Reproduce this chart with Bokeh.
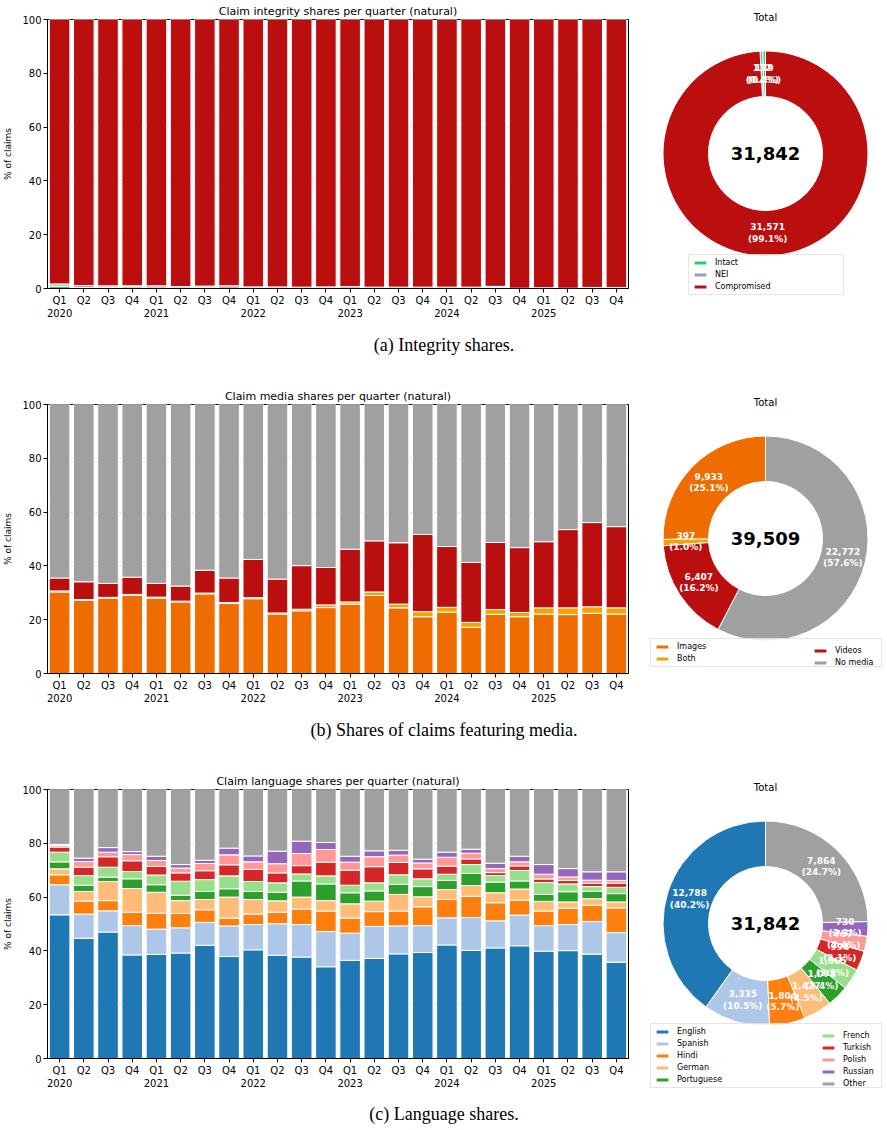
import math

from bokeh.core.properties import value
from bokeh.embed import file_html
from bokeh.layouts import column, row
from bokeh.models import ColumnDataSource, Label, Legend, LegendItem, Range1d
from bokeh.plotting import figure
from bokeh.resources import INLINE

FONT = "DejaVu Sans"
SERIF = "Liberation Serif"

# ---------------------------------------------------------------- data
quarters = ["Q1", "Q2", "Q3", "Q4"] * 6
years = ["2020", "2021", "2022", "2023", "2024", "2025"]

# integrity shares per quarter (% of claims)
integrity_names = ["Intact", "NEI", "Compromised"]
integrity_colors = ["#2ecc71", "#a0a0a0", "#bb0e0e"]
intact = [0.9, 0.3, 0.4, 0.6, 0.2, 0.2, 0.3, 0.1, 0.2, 0.1, 0.1, 0.3,
          0.1, 0.1, 0.2, 0.1, 0.1, 0.1, 0.4, 0.0, 0.1, 0.0, 0.1, 0.1]
nei = [0.8, 0.8, 0.6, 0.4, 0.8, 0.5, 0.6, 0.9, 0.4, 0.5, 0.4, 0.3,
       0.6, 0.4, 0.3, 0.4, 0.4, 0.4, 0.4, 0.1, 0.2, 0.1, 0.3, 0.3]
compromised = [98.3, 98.9, 99.0, 99.0, 99.6, 99.3, 99.1, 99.0, 99.4, 99.4, 99.5, 99.4,
               99.3, 99.5, 99.5, 99.5, 99.5, 99.5, 99.2, 99.9, 99.7, 99.9, 99.6, 99.6]
integrity_totals = [139, 132, 31571]

# media shares per quarter (% of claims)
media_names = ["Images", "Both", "Videos", "No media"]
media_colors = ["#ef6c00", "#f5a300", "#bb0e0e", "#a0a0a0"]
images = [30.3, 27.2, 28.0, 29.1, 28.0, 26.6, 29.6, 26.0, 27.8, 22.1, 23.3, 24.5,
          25.8, 29.0, 24.4, 21.1, 22.8, 17.2, 22.0, 21.1, 22.1, 21.9, 22.4, 22.1]
both = [0.4, 0.3, 0.3, 0.3, 0.4, 0.3, 0.3, 0.4, 0.4, 0.4, 0.6, 1.0,
        0.8, 1.3, 1.4, 1.9, 1.8, 1.8, 1.8, 1.6, 2.3, 2.5, 2.4, 2.3]
videos = [4.8, 6.6, 5.2, 6.4, 5.1, 5.6, 8.5, 9.1, 14.2, 12.6, 16.2, 13.9,
          19.6, 19.0, 22.8, 28.7, 22.6, 22.3, 24.9, 24.1, 24.6, 29.1, 31.3, 30.2]
no_media = [64.5, 65.9, 66.5, 64.2, 66.5, 67.5, 61.6, 64.5, 57.6, 64.9, 59.9, 60.6,
            53.8, 50.7, 51.4, 48.3, 52.8, 58.7, 51.3, 53.2, 51.0, 46.5, 43.9, 45.4]
media_totals = [9933, 397, 6407, 22772]

# language shares per quarter (% of claims)
language_names = ["English", "Spanish", "Hindi", "German", "Portuguese",
                  "French", "Turkish", "Polish", "Russian", "Other"]
language_colors = ["#1f77b4", "#aec7e8", "#ff7f0e", "#ffbb78", "#2ca02c",
                   "#98df8a", "#d62728", "#ff9896", "#9467bd", "#a0a0a0"]
english = [53.4, 44.7, 47.0, 38.5, 38.7, 39.2, 42.1, 37.9, 40.4, 38.4, 37.7, 34.1,
           36.5, 37.2, 38.9, 39.4, 42.2, 40.2, 41.1, 41.9, 39.9, 40.1, 38.8, 35.8]
spanish = [11.2, 9.0, 7.9, 10.9, 9.4, 9.4, 8.5, 11.4, 9.4, 11.7, 12.1, 13.1,
           10.1, 11.9, 10.4, 10.0, 10.1, 12.2, 10.1, 11.4, 9.5, 9.7, 12.1, 11.0]
hindi = [3.7, 4.8, 3.8, 5.0, 5.9, 5.3, 4.7, 2.9, 3.9, 4.3, 5.8, 7.6,
         5.6, 5.5, 5.5, 7.0, 6.8, 7.9, 6.7, 5.6, 5.4, 6.1, 6.1, 9.2]
german = [2.2, 3.6, 7.1, 8.8, 7.8, 4.8, 3.8, 7.8, 5.4, 4.2, 4.4, 3.9,
          5.3, 3.9, 6.2, 3.7, 3.7, 4.0, 3.7, 4.1, 3.6, 2.3, 2.4, 2.2]
portuguese = [2.6, 2.3, 1.6, 3.6, 2.8, 2.0, 3.0, 3.1, 3.0, 3.2, 6.0, 6.2,
              4.1, 3.8, 3.7, 3.8, 3.4, 4.5, 4.0, 3.0, 2.6, 3.8, 2.8, 3.1]
french = [3.6, 3.6, 3.7, 2.7, 3.6, 5.2, 4.4, 4.8, 3.7, 3.5, 2.6, 3.0,
          2.8, 3.0, 3.6, 2.9, 2.3, 3.3, 2.4, 3.9, 4.4, 2.9, 1.7, 2.3]
turkish = [1.9, 3.1, 3.9, 4.0, 3.2, 3.1, 3.3, 4.1, 4.5, 3.7, 3.1, 5.1,
           5.6, 6.0, 4.6, 3.7, 3.0, 2.1, 1.1, 1.7, 1.3, 1.3, 1.2, 1.6]
polish = [0.6, 2.1, 1.7, 2.3, 2.2, 1.8, 2.7, 3.7, 2.8, 3.4, 4.5, 4.7,
          3.0, 3.7, 2.7, 2.2, 3.3, 2.1, 1.5, 1.5, 1.8, 1.3, 1.2, 1.0]
russian = [0.4, 1.3, 1.7, 1.1, 1.6, 1.3, 1.2, 2.5, 2.2, 4.7, 4.6, 2.6,
           2.2, 2.2, 1.8, 1.4, 1.9, 1.5, 2.0, 2.1, 3.6, 3.1, 3.1, 3.2]
other = [20.4, 25.5, 21.6, 23.1, 24.8, 27.9, 26.3, 21.8, 24.7, 22.9, 19.2, 19.7,
         24.8, 22.8, 22.6, 25.9, 23.3, 22.2, 27.4, 24.8, 27.9, 29.4, 30.6, 30.6]
language_totals = [12788, 3335, 1804, 1427, 1078, 1065, 994, 757, 730, 7864]

PANEL_H = 325          # height of one chart row


# ---------------------------------------------------------------- helpers
def tick_labels():
    labels = {}
    for i, q in enumerate(quarters):
        labels[i] = q + "\n" + years[i // 4] if q == "Q1" else q
    return labels


def bar_chart(title, names, colors, series):
    n = len(quarters)
    data = {"x": list(range(n))}
    data.update(dict(zip(names, series)))
    src = ColumnDataSource(data)
    p = figure(width=640, height=PANEL_H, x_range=Range1d(-0.5, n - 0.5),
               y_range=Range1d(0, 100), output_backend="svg", toolbar_location=None,
               title=title, min_border_left=42, min_border_right=12,
               min_border_top=19, min_border_bottom=37, frame_align=False)
    p.vbar_stack(names, x="x", width=0.85, fill_color=colors, line_color="white",
                 line_width=1, source=src)
    p.title.align = "center"
    p.title.text_font = FONT
    p.title.text_font_size = "11px"
    p.title.text_font_style = "normal"
    p.title.text_color = "black"
    p.title.standoff = 4
    p.outline_line_color = "black"
    p.outline_line_width = 1
    p.outline_line_alpha = 1
    p.xgrid.visible = False
    p.ygrid.grid_line_color = "#b0b0b0"
    p.ygrid.grid_line_dash = "1 2"
    p.ygrid.grid_line_alpha = 0.8
    p.yaxis.ticker = [0, 20, 40, 60, 80, 100]
    p.xaxis.ticker = list(range(n))
    p.xaxis.major_label_overrides = tick_labels()
    p.yaxis.axis_label = "% of claims"
    for ax in (p.xaxis[0], p.yaxis[0]):
        ax.axis_line_color = "black"
        ax.major_tick_line_color = "black"
        ax.major_tick_out = 4
        ax.major_tick_in = 0
        ax.minor_tick_out = 0
        ax.minor_tick_in = 0
        ax.major_label_standoff = 2
        ax.major_label_text_font = FONT
        ax.major_label_text_font_size = "10px"
        ax.major_label_text_color = "black"
        ax.axis_label_text_font = FONT
        ax.axis_label_text_font_size = "9px"
        ax.axis_label_text_font_style = "normal"
        ax.axis_label_text_color = "black"
        ax.axis_label_standoff = 6
    return p


def donut(labels, counts, colors, legend_x, legend_y, label_width, split=None):
    # one data unit = one pixel; ring centred 125 px from the left, 153 px below the top
    p = figure(width=247, height=PANEL_H, x_range=Range1d(-125, 122),
               y_range=Range1d(153 - PANEL_H, 153), output_backend="svg",
               toolbar_location=None, x_axis_type=None, y_axis_type=None,
               min_border=0, outline_line_color=None, frame_align=False)
    total = sum(counts)
    r_in, r_out = 57, 102.5
    r_lab = (r_in + r_out) / 2
    starts, ends, lx, ly, texts = [], [], [], [], []
    a = math.pi / 2
    for c in counts:
        frac = c / total
        s, e = a, a + 2 * math.pi * frac
        a = e
        m = (s + e) / 2
        starts.append(s)
        ends.append(e)
        lx.append(r_lab * math.cos(m))
        ly.append(r_lab * math.sin(m))
        texts.append(f"{c:,}\n({frac * 100:.1f}%)")
    src = ColumnDataSource(dict(start=starts, end=ends, color=colors, lx=lx, ly=ly, text=texts))
    r = p.annular_wedge(x=0, y=0, inner_radius=r_in, outer_radius=r_out,
                        start_angle="start", end_angle="end", direction="anticlock",
                        fill_color="color", line_color="white", line_width=1, source=src)
    p.text(x="lx", y="ly", text="text", text_font=value(FONT), text_font_size="9px",
           text_font_style="bold", text_color="white", text_align="center",
           text_baseline="middle", text_line_height=1.15, source=src)
    p.text(x=[0], y=[0], text=[f"{total:,}"], text_font=value(FONT), text_font_size="18px",
           text_font_style="bold", text_color="black", text_align="center",
           text_baseline="middle")
    p.add_layout(Label(x=125, y=PANEL_H - 17, x_units="screen", y_units="screen",
                       text="Total", text_font=FONT, text_font_size="10px",
                       text_color="black", text_align="center", text_baseline="middle"))

    items = [LegendItem(label=lab, renderers=[r], index=i) for i, lab in enumerate(labels)]
    groups = [items] if split is None else [items[:split], items[split:]]
    for gi, group in enumerate(groups):
        leg = Legend(items=group, location=(legend_x[gi], legend_y), margin=0, padding=3,
                     spacing=3, glyph_width=16, glyph_height=5, label_height=9,
                     label_standoff=7, label_width=label_width if gi == 0 else 20,
                     label_text_font=FONT, label_text_font_size="8px",
                     label_text_color="black")
        if gi == 0:
            leg.border_line_color = "#cccccc"
            leg.background_fill_color = "white"
            leg.background_fill_alpha = 0.8
        else:
            leg.border_line_color = None
            leg.background_fill_alpha = 0
        p.add_layout(leg)
    return p


def caption(text, height, y):
    c = figure(width=887, height=height, x_range=Range1d(0, 887), y_range=Range1d(0, height),
               output_backend="svg", toolbar_location=None, x_axis_type=None, y_axis_type=None,
               min_border=0, outline_line_color=None, frame_align=False)
    c.add_layout(Label(x=443.5, y=y, x_units="screen", y_units="screen", text=text,
                       text_font=SERIF, text_font_size="18px", text_color="black",
                       text_align="center", text_baseline="middle"))
    return c


# ---------------------------------------------------------------- panels
bar_a = bar_chart("Claim integrity shares per quarter (natural)", integrity_names,
                  integrity_colors, [intact, nei, compromised])
pie_a = donut(integrity_names, integrity_totals, integrity_colors, [48], 30, 125)

bar_b = bar_chart("Claim media shares per quarter (natural)", media_names,
                  media_colors, [images, both, videos, no_media])
pie_b = donut(media_names, media_totals, media_colors, [10, 172], 43, 201, split=2)

bar_c = bar_chart("Claim language shares per quarter (natural)", language_names,
                  language_colors, [english, spanish, hindi, german, portuguese,
                                    french, turkish, polish, russian, other])
pie_c = donut(language_names, language_totals, language_colors, [10, 180], 7, 201, split=5)

page = column(
    row(bar_a, pie_a), caption("(a) Integrity shares.", 60, 41),
    row(bar_b, pie_b), caption("(b) Shares of claims featuring media.", 60, 41),
    row(bar_c, pie_c), caption("(c) Language shares.", 35, 17),
)

with open("out.html", "w") as f:
    f.write(file_html(page, INLINE))
